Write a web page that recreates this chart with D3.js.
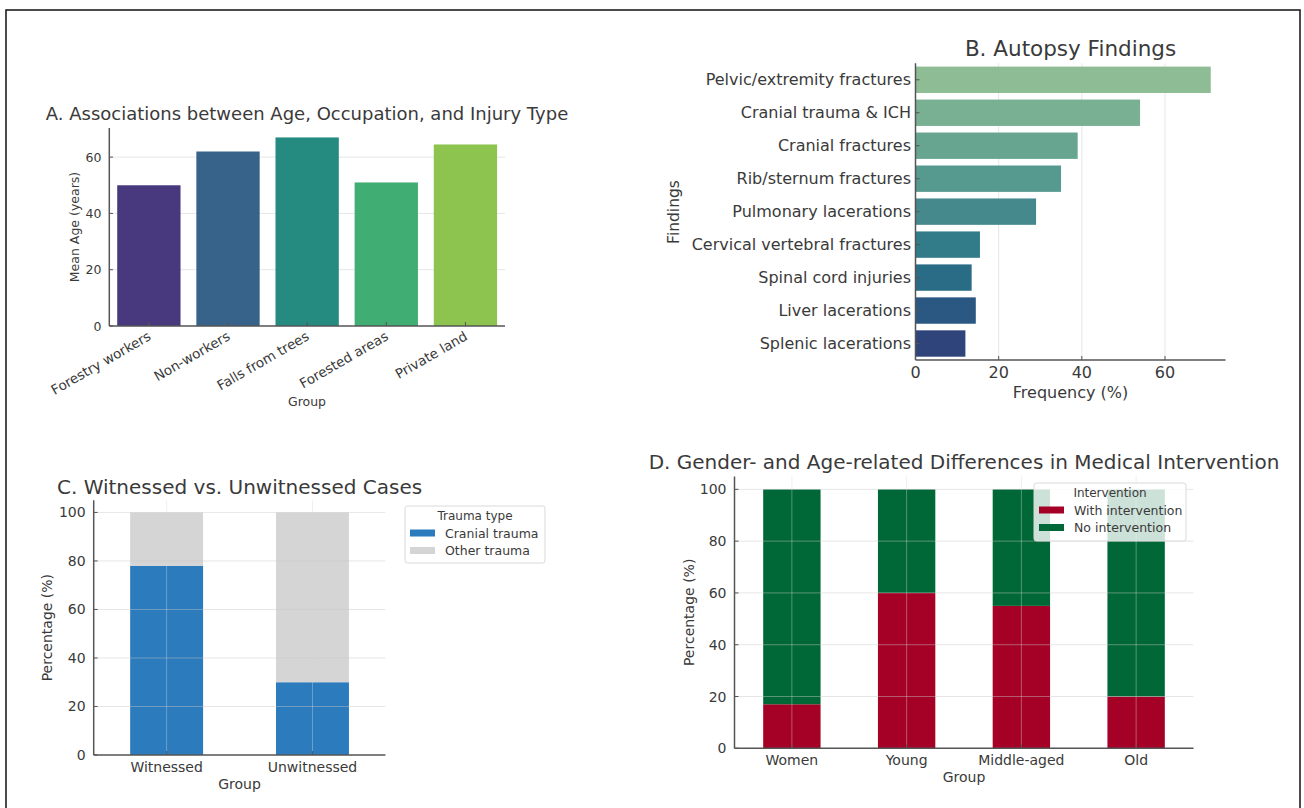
<!DOCTYPE html>
<html>
<head>
<meta charset="utf-8">
<script src="https://cdn.jsdelivr.net/npm/d3@7"></script>
<style>
  body { margin: 0; background: #fff; }
  svg { display: block; font-family: "DejaVu Sans", sans-serif; }
</style>
</head>
<body>
<div id="chart"></div>
<script>
// panel A
var ageGroups = ["Forestry workers", "Non-workers", "Falls from trees", "Forested areas", "Private land"];
var meanAge = [50, 62, 67, 51, 64.5];
var ageColors = ["#48397f", "#37628a", "#258a80", "#40ad72", "#8cc44f"];

// panel B
var findings = ["Pelvic/extremity fractures", "Cranial trauma & ICH", "Cranial fractures", "Rib/sternum fractures",
  "Pulmonary lacerations", "Cervical vertebral fractures", "Spinal cord injuries", "Liver lacerations", "Splenic lacerations"];
var findingFreq = [71, 54, 39, 35, 29, 15.5, 13.5, 14.5, 12];
var findingColors = ["#8ebc94", "#79b093", "#67a591", "#56998f", "#45898c", "#327b88", "#2a6b85", "#2a5882", "#2e447a"];

// panel C
var witnessGroups = ["Witnessed", "Unwitnessed"];
var cranialTrauma = [78, 30];
var otherTrauma = [22, 70];

// panel D
var interventionGroups = ["Women", "Young", "Middle-aged", "Old"];
var withIntervention = [17, 60, 55, 20];
var noIntervention = [83, 40, 45, 80];

var tickValues = [0, 20, 40, 60, 80, 100];

var svg = d3.select("#chart").append("svg")
    .attr("width", 1304)
    .attr("height", 808);

svg.append("rect")
    .attr("x", 6).attr("y", 10)
    .attr("width", 1294).attr("height", 830)
    .attr("fill", "none")
    .attr("stroke", "#111")
    .attr("stroke-width", 1.5);

var spineColor = "#555",
    textColor = "#3a3a3a";

function label(g, x, y, txt, size, anchor, rotate) {
    var t = g.append("text")
        .attr("x", x).attr("y", y)
        .attr("font-size", size)
        .attr("fill", textColor)
        .attr("text-anchor", anchor || "middle")
        .text(txt);
    if (rotate) t.attr("transform", "rotate(" + rotate + "," + x + "," + y + ")");
    return t;
}

function spines(g, x0, x1, y0, y1) {
    g.append("line").attr("x1", x0).attr("x2", x0).attr("y1", y0).attr("y2", y1)
        .attr("stroke", spineColor).attr("stroke-width", 1.5);
    g.append("line").attr("x1", x0).attr("x2", x1).attr("y1", y1).attr("y2", y1)
        .attr("stroke", spineColor).attr("stroke-width", 1.5);
}

// ---------- A ----------
(function() {
    var g = svg.append("g");
    var x = d3.scaleBand().domain(ageGroups).range([109.3, 505]).paddingInner(0.2).paddingOuter(0.1);
    var y = d3.scaleLinear().domain([0, 70.35]).range([326, 128]);

    g.selectAll(".grid").data([20, 40, 60]).enter().append("line")
        .attr("x1", 109.3).attr("x2", 505)
        .attr("y1", function(d) { return y(d); }).attr("y2", function(d) { return y(d); })
        .attr("stroke", "#e6e6e6").attr("stroke-width", 1);

    g.selectAll(".bar").data(ageGroups).enter().append("rect")
        .attr("x", function(d) { return x(d); })
        .attr("width", x.bandwidth())
        .attr("y", function(d, i) { return y(meanAge[i]); })
        .attr("height", function(d, i) { return y(0) - y(meanAge[i]); })
        .attr("fill", function(d, i) { return ageColors[i]; });

    spines(g, 109.3, 505, 128, 326);

    [0, 20, 40, 60].forEach(function(v) {
        g.append("line").attr("x1", 109.3).attr("x2", 113).attr("y1", y(v)).attr("y2", y(v)).attr("stroke", spineColor);
        label(g, 101.5, y(v) + 4.5, v, 12.5, "end");
    });
    ageGroups.forEach(function(d) {
        var cx = x(d) + x.bandwidth() / 2;
        g.append("line").attr("x1", cx).attr("x2", cx).attr("y1", 326).attr("y2", 322).attr("stroke", spineColor);
        label(g, cx + 3, 339, d, 13.5, "end", -30);
    });

    label(g, 307, 120, "A. Associations between Age, Occupation, and Injury Type", 18);
    label(g, 79, 227, "Mean Age (years)", 12.5, "middle", -90);
    label(g, 307, 406, "Group", 12.5);
})();

// ---------- B ----------
(function() {
    var g = svg.append("g");
    var x = d3.scaleLinear().domain([0, 74.55]).range([915.5, 1225.5]);
    var y = d3.scaleBand().domain(findings).range([63.3, 360]).paddingInner(0.2).paddingOuter(0.1);

    g.selectAll(".grid").data([20, 40, 60]).enter().append("line")
        .attr("x1", function(d) { return x(d); }).attr("x2", function(d) { return x(d); })
        .attr("y1", 63.3).attr("y2", 360)
        .attr("stroke", "#e6e6e6").attr("stroke-width", 1);

    g.selectAll(".bar").data(findings).enter().append("rect")
        .attr("x", x(0))
        .attr("y", function(d) { return y(d); })
        .attr("height", y.bandwidth())
        .attr("width", function(d, i) { return x(findingFreq[i]) - x(0); })
        .attr("fill", function(d, i) { return findingColors[i]; });

    spines(g, 915.5, 1225.5, 63.3, 360);

    findings.forEach(function(d) {
        var cy = y(d) + y.bandwidth() / 2;
        g.append("line").attr("x1", 915.5).attr("x2", 919.5).attr("y1", cy).attr("y2", cy).attr("stroke", spineColor);
        label(g, 911, cy + 5.5, d, 16, "end");
    });
    [0, 20, 40, 60].forEach(function(v) {
        g.append("line").attr("x1", x(v)).attr("x2", x(v)).attr("y1", 360).attr("y2", 356).attr("stroke", spineColor);
        label(g, x(v), 377.5, v, 16);
    });

    label(g, 1070.5, 56, "B. Autopsy Findings", 21.5);
    label(g, 679, 212, "Findings", 15.5, "middle", -90);
    label(g, 1070.5, 397.5, "Frequency (%)", 16);
})();

// stacked panel helper for C and D
function stackedPanel(opt) {
    var g = svg.append("g");
    var x = d3.scaleBand().domain(opt.groups).range([opt.x0, opt.x1]).paddingInner(0.5).paddingOuter(0.25);
    var y = d3.scaleLinear().domain([0, 105]).range([opt.y0, opt.yTop]);

    var rows = opt.groups.map(function(d, i) {
        var r = { group: d };
        r[opt.keys[0]] = opt.series[0][i];
        r[opt.keys[1]] = opt.series[1][i];
        return r;
    });
    var stacked = d3.stack().keys(opt.keys)(rows);

    g.selectAll(".layer").data(stacked).enter().append("g")
        .attr("fill", function(d, i) { return opt.colors[i]; })
        .selectAll("rect").data(function(d) { return d; }).enter().append("rect")
        .attr("x", function(d) { return x(d.data.group); })
        .attr("width", x.bandwidth())
        .attr("y", function(d) { return y(d[1]); })
        .attr("height", function(d) { return y(d[0]) - y(d[1]); });

    // grid drawn over the bars, faint
    tickValues.slice(1).forEach(function(v) {
        g.append("line").attr("x1", opt.x0).attr("x2", opt.x1).attr("y1", y(v)).attr("y2", y(v))
            .attr("stroke", "#c8c8c8").attr("stroke-opacity", 0.45);
    });
    opt.groups.forEach(function(d) {
        var cx = x(d) + x.bandwidth() / 2;
        g.append("line").attr("x1", cx).attr("x2", cx).attr("y1", opt.yTop).attr("y2", opt.y0)
            .attr("stroke", "#d8d8d8").attr("stroke-opacity", 0.4);
    });

    spines(g, opt.x0, opt.x1, opt.yTop, opt.y0);

    tickValues.forEach(function(v) {
        g.append("line").attr("x1", opt.x0).attr("x2", opt.x0 + 4).attr("y1", y(v)).attr("y2", y(v)).attr("stroke", spineColor);
        label(g, opt.x0 - 8, y(v) + 5, v, 14, "end");
    });
    opt.groups.forEach(function(d) {
        var cx = x(d) + x.bandwidth() / 2;
        g.append("line").attr("x1", cx).attr("x2", cx).attr("y1", opt.y0).attr("y2", opt.y0 - 4).attr("stroke", spineColor);
        label(g, cx, opt.y0 + 16.5, d, 14);
    });

    var mid = (opt.x0 + opt.x1) / 2;
    label(g, mid, opt.titleY, opt.title, 20);
    label(g, mid, opt.y0 + 34, "Group", 14);
    label(g, opt.ylabX, (opt.y0 + opt.yTop) / 2, "Percentage (%)", 14, "middle", -90);

    // legend
    var L = opt.legend;
    g.append("rect").attr("x", L.x).attr("y", L.y).attr("width", L.w).attr("height", L.h)
        .attr("rx", 2.5)
        .attr("fill", "#fff").attr("fill-opacity", L.alpha)
        .attr("stroke", "#d9d9d9");
    label(g, L.x + L.w / 2, L.y + 13.5, L.title, 12);
    opt.keys.forEach(function(k, i) {
        var ry = L.y + 27 + i * 17.5;
        g.append("rect").attr("x", L.x + 5).attr("y", ry - 3.5).attr("width", 25).attr("height", 7)
            .attr("fill", opt.colors[i]);
        label(g, L.x + 40, ry + 4.5, k, 12.5, "start");
    });
}

// ---------- C ----------
stackedPanel({
    groups: witnessGroups,
    keys: ["Cranial trauma", "Other trauma"],
    series: [cranialTrauma, otherTrauma],
    colors: ["#2b7bbd", "#d5d5d5"],
    x0: 93.7, x1: 385.4, y0: 755, yTop: 500.3,
    title: "C. Witnessed vs. Unwitnessed Cases", titleY: 494,
    ylabX: 52,
    legend: { x: 405, y: 506, w: 140, h: 57, title: "Trauma type", alpha: 1 }
});

// ---------- D ----------
stackedPanel({
    groups: interventionGroups,
    keys: ["With intervention", "No intervention"],
    series: [withIntervention, noIntervention],
    colors: ["#a50026", "#006837"],
    x0: 734.5, x1: 1193.5, y0: 748.3, yTop: 476.4,
    title: "D. Gender- and Age-related Differences in Medical Intervention", titleY: 469,
    ylabX: 694,
    legend: { x: 1034, y: 483, w: 152, h: 58, title: "Intervention", alpha: 0.8 }
});
</script>
</body>
</html>
